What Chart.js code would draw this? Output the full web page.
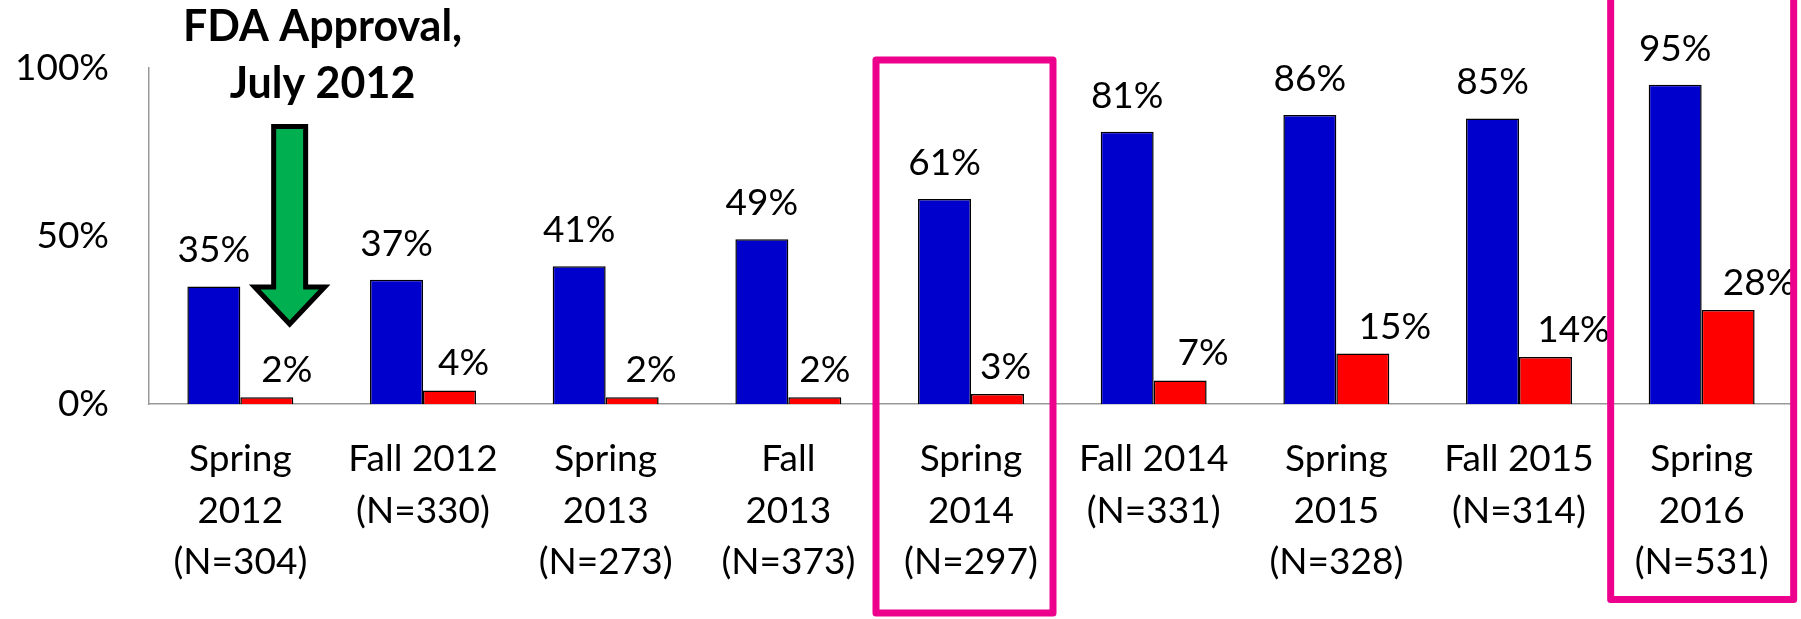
<!DOCTYPE html>
<html>
<head>
<meta charset="utf-8">
<script src="https://cdn.jsdelivr.net/npm/chart.js@4.4.1/dist/chart.umd.min.js"></script>
<style>
  html, body { margin: 0; padding: 0; background: #fff; }
  #wrap { width: 1801px; height: 619px; position: relative; }
</style>
</head>
<body>
<div id="wrap"><canvas id="chart_fdaSurvey"></canvas></div>
<script>
// survey waves, two-line or three-line labels
var categories = [
    ['Spring', '2012', '(N=304)'],
    ['Fall 2012', '(N=330)'],
    ['Spring', '2013', '(N=273)'],
    ['Fall', '2013', '(N=373)'],
    ['Spring', '2014', '(N=297)'],
    ['Fall 2014', '(N=331)'],
    ['Spring', '2015', '(N=328)'],
    ['Fall 2015', '(N=314)'],
    ['Spring', '2016', '(N=531)']
];
var blueValues = [35, 37, 41, 49, 61, 81, 86, 85, 95];
var redValues = [2, 4, 2, 2, 3, 7, 15, 14, 28];
var yTicks = [0, 50, 100];

var FONT = 'Lato, "Open Sans", sans-serif';

// red labels sit a bit right of their bars on the original slide (px)
var redNudge = [20, 14, 19, 10, 8, 23, 32, 28, 31];

var labelPlugin = {
    id: 'barLabels',
    afterDatasetsDraw: function (chart) {
        var ctx = chart.ctx;
        ctx.save();
        ctx.font = '37px ' + FONT;
        ctx.fillStyle = '#000';
        ctx.textAlign = 'center';
        ctx.textBaseline = 'middle';
        chart.data.datasets.forEach(function (ds, di) {
            var meta = chart.getDatasetMeta(di);
            var gap = di === 0 ? 36 : 27;
            meta.data.forEach(function (bar, i) {
                var dx = di === 0 ? 0 : redNudge[i];
                ctx.fillText(ds.data[i] + '%', bar.x + dx, bar.y - gap);
            });
        });
        ctx.restore();
    }
};

var notePlugin = {
    id: 'notes',
    afterDraw: function (chart) {
        var ctx = chart.ctx;
        var xs = chart.scales.x, ys = chart.scales.y;
        ctx.save();

        // title over the arrow
        var tx = xs.getPixelForValue(0.45);
        ctx.font = 'bold 43px ' + FONT;
        ctx.fillStyle = '#000';
        ctx.textAlign = 'center';
        ctx.textBaseline = 'middle';
        ctx.fillText('FDA Approval,', tx, 27);
        ctx.fillText('July 2012', tx, 84);

        // green arrow, July 2012
        var ax = xs.getPixelForValue(0.27);
        var top = ys.getPixelForValue(82.6);
        var neck = ys.getPixelForValue(34.8);
        var tip = ys.getPixelForValue(23.8);
        ctx.beginPath();
        ctx.moveTo(ax - 16, top);
        ctx.lineTo(ax + 16, top);
        ctx.lineTo(ax + 16, neck);
        ctx.lineTo(ax + 35, neck);
        ctx.lineTo(ax, tip);
        ctx.lineTo(ax - 35, neck);
        ctx.lineTo(ax - 16, neck);
        ctx.closePath();
        ctx.fillStyle = '#00B050';
        ctx.fill();
        ctx.lineWidth = 5;
        ctx.lineJoin = 'miter';
        ctx.strokeStyle = '#000';
        ctx.stroke();

        // magenta highlight boxes
        ctx.strokeStyle = '#EC008C';
        ctx.lineWidth = 7;
        ctx.lineJoin = 'round';
        var c4 = xs.getPixelForValue(4);
        ctx.strokeRect(c4 - 95, 60, 177, 553);
        var c8 = xs.getPixelForValue(8);
        ctx.strokeRect(c8 - 91, -20, 183, 619.5);
        ctx.restore();
    }
};

var chart_fdaSurvey = new Chart(document.getElementById('chart_fdaSurvey'), {
    type: 'bar',
    data: {
        labels: categories,
        datasets: [
            {
                label: 'Series 1',
                data: blueValues,
                backgroundColor: '#0000CC',
                borderColor: '#000',
                borderWidth: 1.5
            },
            {
                label: 'Series 2',
                data: redValues,
                backgroundColor: '#FF0000',
                borderColor: '#000',
                borderWidth: 1.5
            }
        ]
    },
    options: {
        animation: false,
        responsive: true,
        maintainAspectRatio: false,
        categoryPercentage: 0.58,
        barPercentage: 1.0,
        layout: {
            padding: { top: 68, right: 8, bottom: 0, left: 0 }
        },
        plugins: {
            legend: { display: false },
            tooltip: { enabled: false }
        },
        scales: {
            x: {
                grid: { display: false, drawTicks: false },
                border: { display: true, color: '#999', width: 1.5 },
                ticks: {
                    color: '#000',
                    font: { family: FONT, size: 37, lineHeight: 1.38 },
                    padding: 30,
                    autoSkip: false,
                    maxRotation: 0
                },
                afterFit: function (s) { s.height = 215; }
            },
            y: {
                min: 0,
                max: 100,
                grid: { display: false, drawTicks: false },
                border: { display: true, color: '#999', width: 1.5 },
                afterBuildTicks: function (s) {
                    s.ticks = yTicks.map(function (v) { return { value: v }; });
                },
                ticks: {
                    color: '#000',
                    font: { family: FONT, size: 37 },
                    padding: 40,
                    callback: function (v) { return v + '%'; }
                },
                afterFit: function (s) { s.width = 149; }
            }
        }
    },
    plugins: [labelPlugin, notePlugin, {
        id: 'whiteBg',
        beforeDraw: function (chart) {
            var ctx = chart.ctx;
            ctx.save();
            ctx.fillStyle = 'white';
            ctx.fillRect(0, 0, chart.width, chart.height);
            ctx.restore();
        }
    }]
});
</script>
</body>
</html>
